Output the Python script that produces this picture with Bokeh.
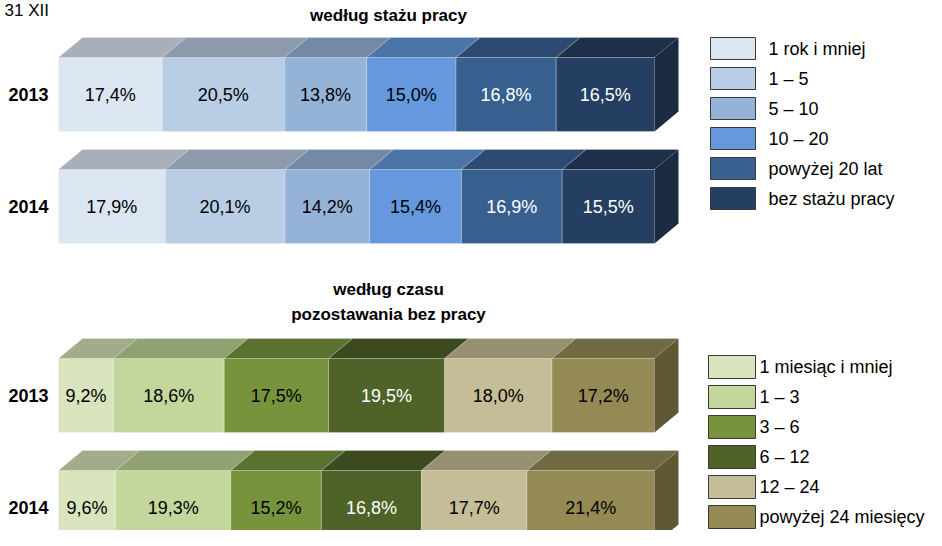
import numpy as np
from bokeh.plotting import figure
from bokeh.models import Range1d
from bokeh.core.properties import value
from bokeh.embed import file_html
from bokeh.resources import INLINE

# ---------------- data ----------------
years = ["2013", "2014"]
staz_labels = ["1 rok i mniej", "1 – 5", "5 – 10", "10 – 20", "powyżej 20 lat", "bez stażu pracy"]
staz_2013 = [17.4, 20.5, 13.8, 15.0, 16.8, 16.5]
staz_2014 = [17.9, 20.1, 14.2, 15.4, 16.9, 15.5]
czas_labels = ["1 miesiąc i mniej", "1 – 3", "3 – 6", "6 – 12", "12 – 24", "powyżej 24 miesięcy"]
czas_2013 = [9.2, 18.6, 17.5, 19.5, 18.0, 17.2]
czas_2014 = [9.6, 19.3, 15.2, 16.8, 17.7, 21.4]
title_top = ["według stażu pracy"]
title_bottom = ["według czasu", "pozostawania bez pracy"]
header = "31 XII"

# ---------------- styles ----------------
FONT = "Liberation Sans"
W, H = 926, 530
PX = 5.96                      # pixels per percent
X0 = -58 / PX                  # left edge of frame in percent units
DX, DY = 24 / PX, 20           # 3D depth
BAR_H = 74


def px(xpix):
    return X0 + xpix / PX


blue_front = ["#DCE6F2", "#B9CDE5", "#95B3D7", "#6598DC", "#37608F", "#243F62"]
blue_top = ["#A7AFB8", "#8C9AAE", "#7389A6", "#4B74A8", "#2C4A72", "#1E3049"]
blue_side = "#1B2B42"
blue_txt = ["black", "black", "black", "black", "white", "white"]

green_front = ["#D7E4BD", "#C3D69B", "#77933C", "#4F6228", "#C4BD97", "#948A54"]
green_top = ["#A0AC8A", "#90A272", "#5A7230", "#3C4B1F", "#968F70", "#716A42"]
green_side = "#5F5836"
green_txt = ["black", "black", "black", "white", "black", "black"]

sections = [
    dict(rows=[staz_2013, staz_2014], labels=staz_labels, front=blue_front, top=blue_top,
         side=blue_side, txt=blue_txt, tops=[57, 169], titles=title_top, title_y=[15],
         leg_l=710, leg_r=755, leg_txt=768, leg_y0=48, leg_step=30, leg_h=22),
    dict(rows=[czas_2013, czas_2014], labels=czas_labels, front=green_front, top=green_top,
         side=green_side, txt=green_txt, tops=[358, 470], titles=title_bottom, title_y=[289, 314],
         leg_l=708, leg_r=755, leg_txt=759, leg_y0=366.5, leg_step=30, leg_h=23),
]

p = figure(width=W, height=H, x_range=Range1d(X0, X0 + W / PX), y_range=Range1d(H, 0),
           output_backend="svg", toolbar_location=None, min_border=0,
           x_axis_location=None, y_axis_location=None)
p.grid.visible = False
p.outline_line_color = None
p.background_fill_color = "white"

# header fragment at the top-left
p.text(x=[px(4)], y=[0], text=[header], text_align="left", text_baseline="top",
       text_font=value(FONT), text_font_size="17px", text_color="black")

for sec in sections:
    for yi, (vals, ytop) in enumerate(zip(sec["rows"], sec["tops"])):
        vals = np.array(vals)
        left = np.concatenate([[0], np.cumsum(vals)[:-1]])
        right = left + vals
        ybot = ytop + BAR_H
        # front faces
        p.quad(left=left, right=right, top=[ytop] * len(vals), bottom=[ybot] * len(vals),
               fill_color=sec["front"], line_color="white", line_alpha=0.25, line_width=1)
        # top faces
        xs = [[l, r, r + DX, l + DX] for l, r in zip(left, right)]
        ys = [[ytop, ytop, ytop - DY, ytop - DY] for _ in vals]
        p.patches(xs=xs, ys=ys, fill_color=sec["top"], line_color="white", line_alpha=0.2,
                  line_width=1)
        # side face
        end = right[-1]
        p.patch(x=[end, end + DX, end + DX, end], y=[ytop, ytop - DY, ybot - DY, ybot],
                fill_color=sec["side"], line_color=None)
        # value labels
        p.text(x=(left + right) / 2, y=[ytop + BAR_H / 2] * len(vals),
               text=[f"{v:.1f}".replace(".", ",") + "%" for v in vals],
               text_align="center", text_baseline="middle", text_font=value(FONT),
               text_font_size="18px", text_color=sec["txt"])
        # year label
        p.text(x=[px(48)], y=[ytop + BAR_H / 2], text=[years[yi]], text_align="right",
               text_baseline="middle", text_font=value(FONT), text_font_size="18px",
               text_font_style="bold", text_color="black")
    # section title
    p.text(x=[px(388)] * len(sec["titles"]), y=sec["title_y"], text=sec["titles"],
           text_align="center", text_baseline="middle", text_font=value(FONT),
           text_font_size="17px", text_font_style="bold", text_color="black")
    # legend
    n = len(sec["labels"])
    cy = np.array([sec["leg_y0"] + i * sec["leg_step"] for i in range(n)])
    p.quad(left=[px(sec["leg_l"])] * n, right=[px(sec["leg_r"])] * n,
           top=cy - sec["leg_h"] / 2, bottom=cy + sec["leg_h"] / 2,
           fill_color=sec["front"], line_color="#3a3a3a", line_width=1)
    p.text(x=[px(sec["leg_txt"])] * n, y=cy, text=sec["labels"], text_align="left",
           text_baseline="middle", text_font=value(FONT), text_font_size="18px",
           text_color="black")

open("out.html", "w").write(file_html(p, INLINE))
